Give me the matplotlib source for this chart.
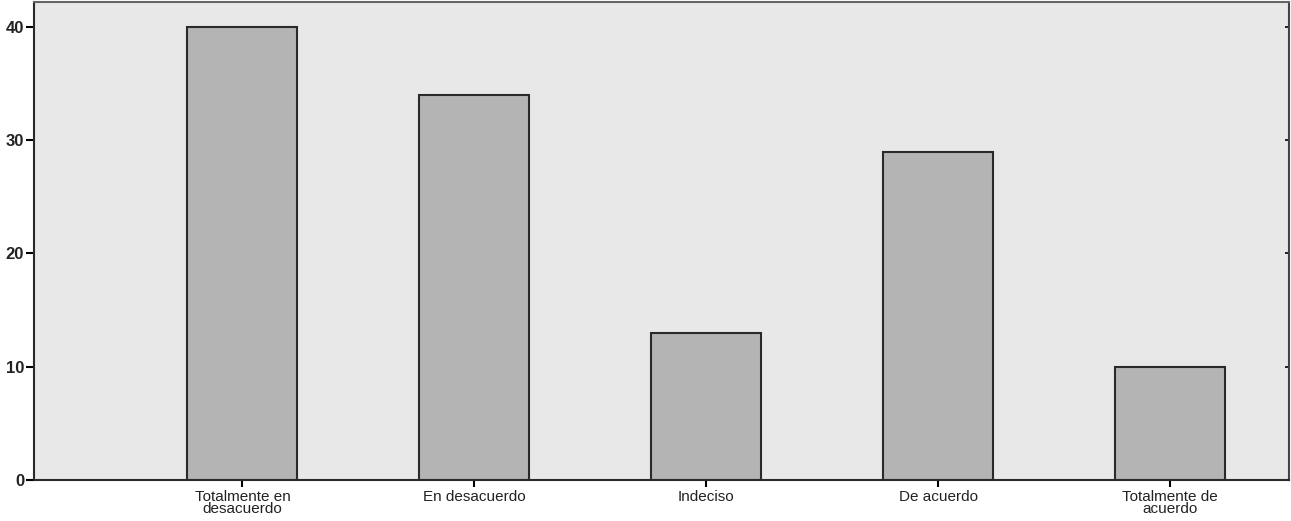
import numpy as np
import matplotlib
matplotlib.use("Agg")
import matplotlib.pyplot as plt
from matplotlib.lines import TICKLEFT

categories = ["Totalmente en\ndesacuerdo", "En desacuerdo", "Indeciso", "De acuerdo", "Totalmente de\nacuerdo"]
counts = [40, 34, 13, 29, 10]
yticks = [0, 10, 20, 30, 40]

plt.rcParams["font.family"] = ["Liberation Sans", "DejaVu Sans"]

fig = plt.figure(figsize=(12.91, 5.21), dpi=100)
ax = fig.add_axes([0.0263, 0.0787, 0.9722, 0.9173])
ax.set_facecolor("#e8e8e8")

x = np.arange(len(categories))
ax.bar(x, counts, width=0.474, color="#b4b4b4", edgecolor="#2a2a2a", linewidth=1.5, zorder=2)

ax.set_xlim(-0.899, 4.513)
ax.set_ylim(0, 42.2)
ax.set_yticks(yticks)
ax.set_xticks(x)
ax.set_xticklabels(categories, fontsize=11, linespacing=0.82, color="#222222")
for lab in ax.get_yticklabels():
    lab.set_fontweight("bold")
ax.tick_params(axis="y", labelsize=12, length=6, width=1.5, pad=1, labelcolor="#222222")
ax.tick_params(axis="x", length=5, width=1.5, pad=2)
ax.tick_params(axis="y", right=True)
# small inward ticks on the right edge
for t in ax.yaxis.get_major_ticks():
    t.tick2line.set_marker(TICKLEFT)
    t.tick2line.set_markersize(3)
    t.tick2line.set_markeredgewidth(1.2)
for s in ax.spines.values():
    s.set_linewidth(1.5)
    s.set_color("#2a2a2a")
ax.spines["top"].set_color("#666666")
ax.spines["right"].set_color("#444444")

fig.savefig("out.png", dpi=100)
